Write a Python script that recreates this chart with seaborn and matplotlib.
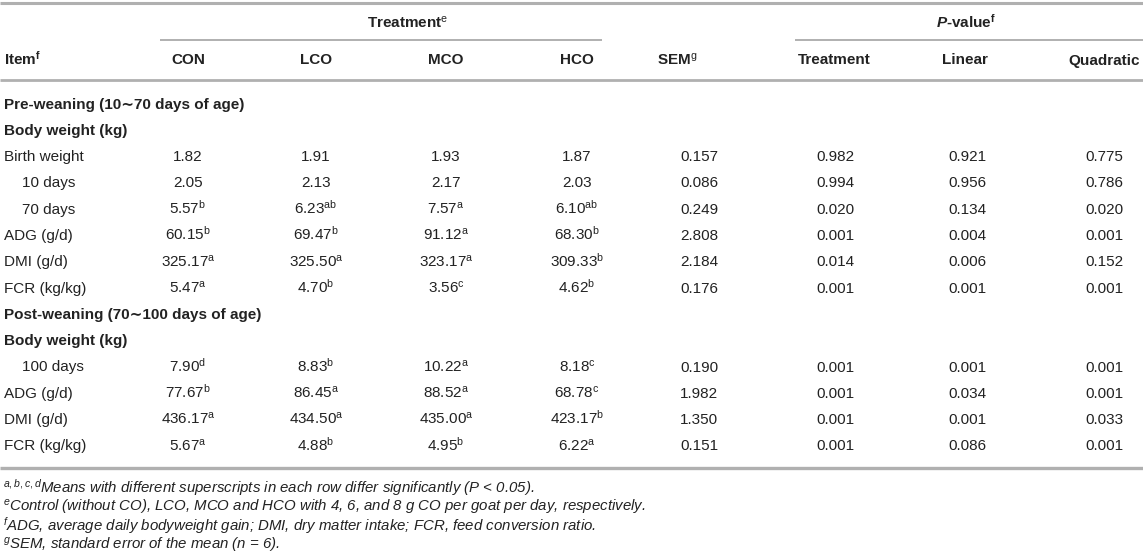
import matplotlib
matplotlib.use("Agg")
import matplotlib.pyplot as plt
import seaborn as sns

# Table content
items = ["Birth weight", "10 days", "70 days", "ADG (g/d)", "DMI (g/d)", "FCR (kg/kg)",
         "100 days", "ADG (g/d)", "DMI (g/d)", "FCR (kg/kg)"]
indented = ["10 days", "70 days", "100 days"]

con = [1.82, 2.05, 5.57, 60.15, 325.17, 5.47, 7.90, 77.67, 436.17, 5.67]
con_sig = ["", "", "b", "b", "a", "a", "d", "b", "a", "a"]
lco = [1.91, 2.13, 6.23, 69.47, 325.50, 4.70, 8.83, 86.45, 434.50, 4.88]
lco_sig = ["", "", "ab", "b", "a", "b", "b", "a", "a", "b"]
mco = [1.93, 2.17, 7.57, 91.12, 323.17, 3.56, 10.22, 88.52, 435.00, 4.95]
mco_sig = ["", "", "a", "a", "a", "c", "a", "a", "a", "b"]
hco = [1.87, 2.03, 6.10, 68.30, 309.33, 4.62, 8.18, 68.78, 423.17, 6.22]
hco_sig = ["", "", "ab", "b", "b", "b", "c", "c", "b", "a"]
sem = [0.157, 0.086, 0.249, 2.808, 2.184, 0.176, 0.190, 1.982, 1.350, 0.151]
p_treat = [0.982, 0.994, 0.020, 0.001, 0.014, 0.001, 0.001, 0.001, 0.001, 0.001]
p_lin = [0.921, 0.956, 0.134, 0.004, 0.006, 0.001, 0.001, 0.034, 0.001, 0.086]
p_quad = [0.775, 0.786, 0.020, 0.001, 0.152, 0.001, 0.001, 0.001, 0.033, 0.001]

sections_pre = ["Pre-weaning (10\u223c70 days of age)", "Body weight (kg)"]
sections_post = ["Post-weaning (70\u223c100 days of age)", "Body weight (kg)"]
n_pre = 6

footnotes = [
    r"$^{\mathit{a,b,c,d}}$Means with different superscripts in each row differ significantly (P < 0.05).",
    r"$^{\mathit{e}}$Control (without CO), LCO, MCO and HCO with 4, 6, and 8 g CO per goat per day, respectively.",
    r"$^{\mathit{f}}$ADG, average daily bodyweight gain; DMI, dry matter intake; FCR, feed conversion ratio.",
    r"$^{\mathit{g}}$SEM, standard error of the mean (n = 6).",
]

# Style
sns.set_theme(style="white")
plt.rcParams['font.family'] = ['Liberation Sans', 'DejaVu Sans']
plt.rcParams['mathtext.fontset'] = 'custom'
plt.rcParams['mathtext.rm'] = 'Liberation Sans'
plt.rcParams['mathtext.it'] = 'Liberation Sans:italic'
plt.rcParams['mathtext.bf'] = 'Liberation Sans:bold'
plt.rcParams['mathtext.sf'] = 'Liberation Sans:bold:italic'

TXT = '#222222'
LINE = '#b0b0b0'
FS = 11
FS_NOTE = 10.8

fig = plt.figure(figsize=(11.43, 5.58), dpi=100)
ax = fig.add_axes([0, 0, 1, 1])
ax.set_xlim(0, 1143)
ax.set_ylim(558, 0)
ax.axis('off')

col_x = [188, 316, 446, 577, 699, 835, 967, 1104]
head_x = [188, 316, 446, 577, 677, 834, 965, 1104]


def sup(v, s, fmt="{:.2f}"):
    t = fmt.format(v)
    if s:
        t += r"$^{\mathrm{" + s + "}}$"
    return t


def put(x, y, s, ha='center', **kw):
    # y is the visual middle of the line; baseline sits a bit lower
    ax.text(x, y + 5.5, s, ha=ha, va='baseline', fontsize=kw.pop('fontsize', FS),
            color=TXT, **kw)


# rules
ax.hlines(3, 0, 1143, color=LINE, lw=2.2)
ax.hlines(40, 160, 602, color=LINE, lw=1.4)
ax.hlines(40, 795, 1143, color=LINE, lw=1.4)
ax.hlines(80, 0, 1143, color=LINE, lw=2.0)
ax.hlines(468, 0, 1143, color=LINE, lw=2.4)

# header
put(408, 22, r"Treatment$^{\mathrm{e}}$", fontweight='bold')
put(966, 22, r"$\mathsf{P}$-value$^{\mathbf{f}}$", fontweight='bold')
put(4, 59, r"Item$^{\mathbf{f}}$", ha='left', fontweight='bold')
headers = ["CON", "LCO", "MCO", "HCO", r"SEM$^{\mathrm{g}}$", "Treatment", "Linear", "Quadratic"]
for x, h in zip(head_x, headers):
    put(x, 59, h, fontweight='bold')

# body
y0, pitch = 103, 26.3
rows = ([("sec", s) for s in sections_pre] + [("dat", i) for i in range(n_pre)]
        + [("sec", s) for s in sections_post] + [("dat", i) for i in range(n_pre, len(items))])
for r, (kind, val) in enumerate(rows):
    y = y0 + pitch * r
    if kind == "sec":
        put(4, y, val, ha='left', fontweight='bold')
        continue
    i = val
    put(22 if items[i] in indented else 4, y, items[i], ha='left')
    cells = [sup(con[i], con_sig[i]), sup(lco[i], lco_sig[i]), sup(mco[i], mco_sig[i]),
             sup(hco[i], hco_sig[i]), f"{sem[i]:.3f}", f"{p_treat[i]:.3f}",
             f"{p_lin[i]:.3f}", f"{p_quad[i]:.3f}"]
    for x, c in zip(col_x, cells):
        put(x, y, c)

# footnotes
for k, note in enumerate(footnotes):
    put(3, 487 + 19 * k, note, ha='left', fontsize=FS_NOTE, style='italic')

fig.savefig("out.png", dpi=100)
